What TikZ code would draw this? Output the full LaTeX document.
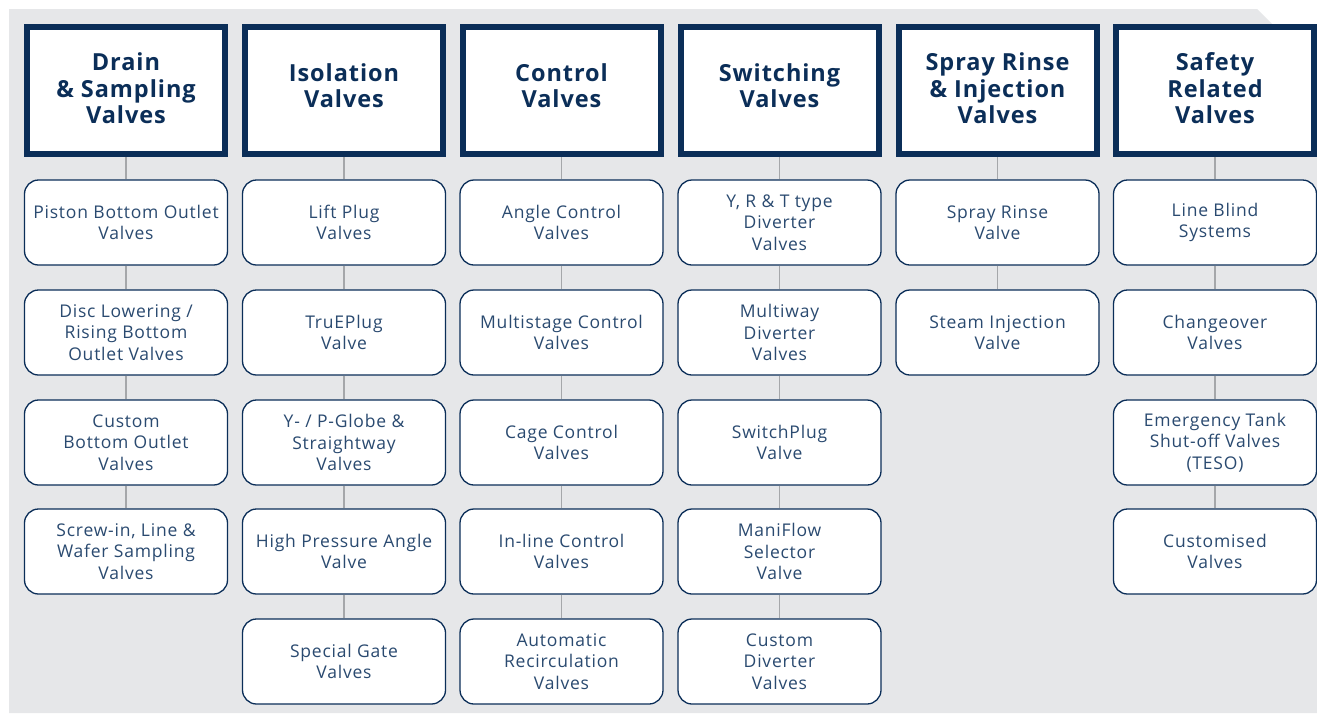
\documentclass[tikz,border=0pt]{standalone}
\usepackage{fontspec}
\setmainfont{Open Sans}
\newfontfamily\hdfont[LetterSpace=4]{Open Sans Bold}
\newfontfamily\subfont[LetterSpace=4.5]{Open Sans}
\definecolor{navy}{HTML}{0B2E58}
\definecolor{subtxt}{HTML}{2A4A70}
\definecolor{bggray}{HTML}{E6E7E9}
\definecolor{lngray}{HTML}{A5A7AA}
\begin{document}
\begin{tikzpicture}[x=1pt,y=-1pt,
  hdr/.style={draw=navy,line width=6pt,fill=white,minimum width=198pt,minimum height=127pt,inner sep=0pt},
  hdrtext/.style={inner sep=0pt,align=center,text=navy,font=\hdfont\fontsize{23.5}{26.5}\selectfont},
  sub/.style={draw=navy,line width=1.3pt,fill=white,rounded corners=14pt,minimum width=203pt,
    minimum height=85pt,inner sep=0pt,align=center,text=subtxt,font=\subfont\fontsize{17.5}{21.3}\selectfont},
  conn/.style={draw=lngray,line width=1.5pt}]
\useasboundingbox (0,0) rectangle (1317,713);
\fill[white] (0,0) rectangle (1317,713);
\fill[bggray] (9,9) -- (1257,9) -- (1317,69) -- (1317,713) -- (9,713) -- cycle;
% headers
\node[hdr] (h1) at (126,90.5) {};
\node[hdr] (h2) at (344,90.5) {};
\node[hdr] (h3) at (561.5,90.5) {};
\node[hdr] (h4) at (779.5,90.5) {};
\node[hdr] (h5) at (997.5,90.5) {};
\node[hdr] (h6) at (1215,90.5) {};
\node[hdrtext,yshift=2pt] (t1) at (h1.center) {Drain\\\& Sampling\\Valves};
\node[hdrtext,yshift=5pt] (t2) at (h2.center) {Isolation\\Valves};
\node[hdrtext,yshift=5pt] (t3) at (h3.center) {Control\\Valves};
\node[hdrtext,yshift=5pt] (t4) at (h4.center) {Switching\\Valves};
\node[hdrtext,yshift=2pt] (t5) at (h5.center) {Spray Rinse\\\& Injection\\Valves};
\node[hdrtext,yshift=2pt] (t6) at (h6.center) {Safety\\Related\\Valves};
% column 1
\node[sub] (a1) at (126,222.5) {Piston Bottom Outlet\\Valves};
\node[sub] (a2) at (126,332.5) {Disc Lowering /\\Rising Bottom\\Outlet Valves};
\node[sub] (a3) at (126,442.5) {Custom\\Bottom Outlet\\Valves};
\node[sub] (a4) at (126,551.5) {Screw-in, Line \&\\Wafer Sampling\\Valves};
% column 2
\node[sub] (b1) at (344,222.5) {Lift Plug\\Valves};
\node[sub] (b2) at (344,332.5) {TruEPlug\\Valve};
\node[sub] (b3) at (344,442.5) {Y- / P-Globe \&\\Straightway\\Valves};
\node[sub] (b4) at (344,551.5) {High Pressure Angle\\Valve};
\node[sub] (b5) at (344,661.5) {Special Gate\\Valves};
% column 3
\node[sub] (c1) at (561.5,222.5) {Angle Control\\Valves};
\node[sub] (c2) at (561.5,332.5) {Multistage Control\\Valves};
\node[sub] (c3) at (561.5,442.5) {Cage Control\\Valves};
\node[sub] (c4) at (561.5,551.5) {In-line Control\\Valves};
\node[sub] (c5) at (561.5,661.5) {Automatic\\Recirculation\\Valves};
% column 4
\node[sub] (d1) at (779.5,222.5) {Y, R \& T type\\Diverter\\Valves};
\node[sub] (d2) at (779.5,332.5) {Multiway\\Diverter\\Valves};
\node[sub] (d3) at (779.5,442.5) {SwitchPlug\\Valve};
\node[sub] (d4) at (779.5,551.5) {ManiFlow\\Selector\\Valve};
\node[sub] (d5) at (779.5,661.5) {Custom\\Diverter\\Valves};
% column 5
\node[sub] (e1) at (997.5,222.5) {Spray Rinse\\Valve};
\node[sub] (e2) at (997.5,332.5) {Steam Injection\\Valve};
% column 6
\node[sub] (f1) at (1215,222.5) {Line Blind\\Systems};
\node[sub] (f2) at (1215,332.5) {Changeover\\Valves};
\node[sub] (f3) at (1215,442.5) {Emergency Tank\\Shut-off Valves\\(TESO)};
\node[sub] (f4) at (1215,551.5) {Customised\\Valves};
% connectors
\draw[conn] (h1.south) -- (a1.north) (a1.south) -- (a2.north) (a2.south) -- (a3.north) (a3.south) -- (a4.north);
\draw[conn] (h2.south) -- (b1.north) (b1.south) -- (b2.north) (b2.south) -- (b3.north) (b3.south) -- (b4.north) (b4.south) -- (b5.north);
\draw[conn] (h3.south) -- (c1.north) (c1.south) -- (c2.north) (c2.south) -- (c3.north) (c3.south) -- (c4.north) (c4.south) -- (c5.north);
\draw[conn] (h4.south) -- (d1.north) (d1.south) -- (d2.north) (d2.south) -- (d3.north) (d3.south) -- (d4.north) (d4.south) -- (d5.north);
\draw[conn] (h5.south) -- (e1.north) (e1.south) -- (e2.north);
\draw[conn] (h6.south) -- (f1.north) (f1.south) -- (f2.north) (f2.south) -- (f3.north) (f3.south) -- (f4.north);
\end{tikzpicture}
\end{document}
